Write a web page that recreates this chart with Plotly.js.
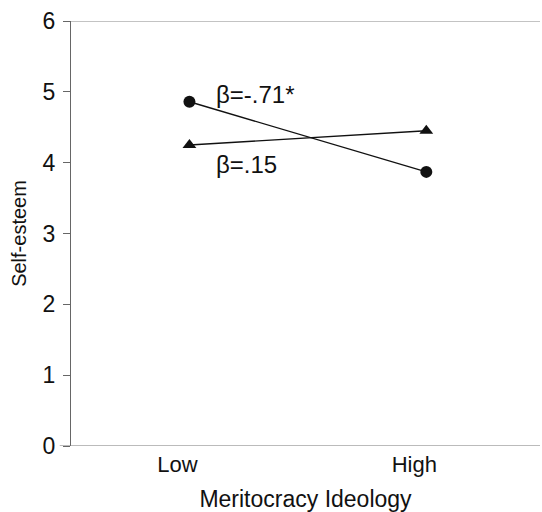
<!DOCTYPE html>
<html>
<head>
<meta charset="utf-8">
<script src="https://cdn.plot.ly/plotly-3.0.1.min.js"></script>
<style>html,body{margin:0;padding:0;background:#fff;}#chart{width:542px;height:512px;}</style>
</head>
<body>
<div id="chart"></div>
<script>
var categories = ["Low", "High"];
var circleSeries = [4.86, 3.87];
var triangleSeries = [4.25, 4.45];
var yTicks = [0, 1, 2, 3, 4, 5, 6];
var labelTexts = ["β=-.71*", "β=.15"];

var font = "Liberation Sans, Arial, sans-serif";

var traces = [
  {
    x: categories, y: circleSeries, type: "scatter", mode: "lines+markers",
    line: {color: "#111", width: 1.4},
    marker: {symbol: "circle", size: 12, color: "#111"},
    showlegend: false, hoverinfo: "skip"
  },
  {
    x: categories, y: triangleSeries, type: "scatter", mode: "lines+markers",
    line: {color: "#111", width: 1.4},
    marker: {symbol: "triangle-up", size: 12, color: "#111"},
    showlegend: false, hoverinfo: "skip"
  }
];

var layout = {
  width: 542, height: 512,
  margin: {l: 71, r: 2, t: 21, b: 66},
  paper_bgcolor: "#fff", plot_bgcolor: "#fff",
  font: {family: font, color: "#111"},
  xaxis: {
    type: "category",
    categoryorder: "array", categoryarray: categories,
    range: [-0.5, 1.48],
    showgrid: false, zeroline: false,
    showline: false,
    ticks: "", ticklabelshift: -12, ticklabelstandoff: 3,
    tickfont: {size: 22, family: font, color: "#111"},
    title: {text: "Meritocracy Ideology", font: {size: 23, family: font, color: "#111"}, standoff: 14},
    fixedrange: true
  },
  yaxis: {
    range: [0, 6],
    tickvals: yTicks,
    showgrid: false, zeroline: false,
    showline: true, linecolor: "#666", linewidth: 1,
    ticks: "outside", ticklen: 7, tickcolor: "#666", tickwidth: 1,
    ticklabelstandoff: 3,
    tickfont: {size: 23, family: font, color: "#111"},
    title: {text: "Self-esteem", font: {size: 20, family: font, color: "#111"}, standoff: 10},
    fixedrange: true
  },
  shapes: [
    {type: "line", xref: "paper", yref: "y", x0: 0, x1: 1, y0: 6, y1: 6, line: {color: "#888", width: 1}},
    {type: "line", xref: "paper", yref: "y", x0: -0.024, x1: 1, y0: 0, y1: 0, line: {color: "#777", width: 1}}
  ],
  annotations: [
    {x: 0.105, y: 4.96, xref: "x", yref: "y", text: labelTexts[0], showarrow: false, xanchor: "left", yanchor: "middle", font: {size: 24, family: font, color: "#111"}},
    {x: 0.105, y: 3.97, xref: "x", yref: "y", text: labelTexts[1], showarrow: false, xanchor: "left", yanchor: "middle", font: {size: 24, family: font, color: "#111"}}
  ]
};

Plotly.newPlot("chart", traces, layout, {displayModeBar: false, staticPlot: true});
</script>
</body>
</html>
